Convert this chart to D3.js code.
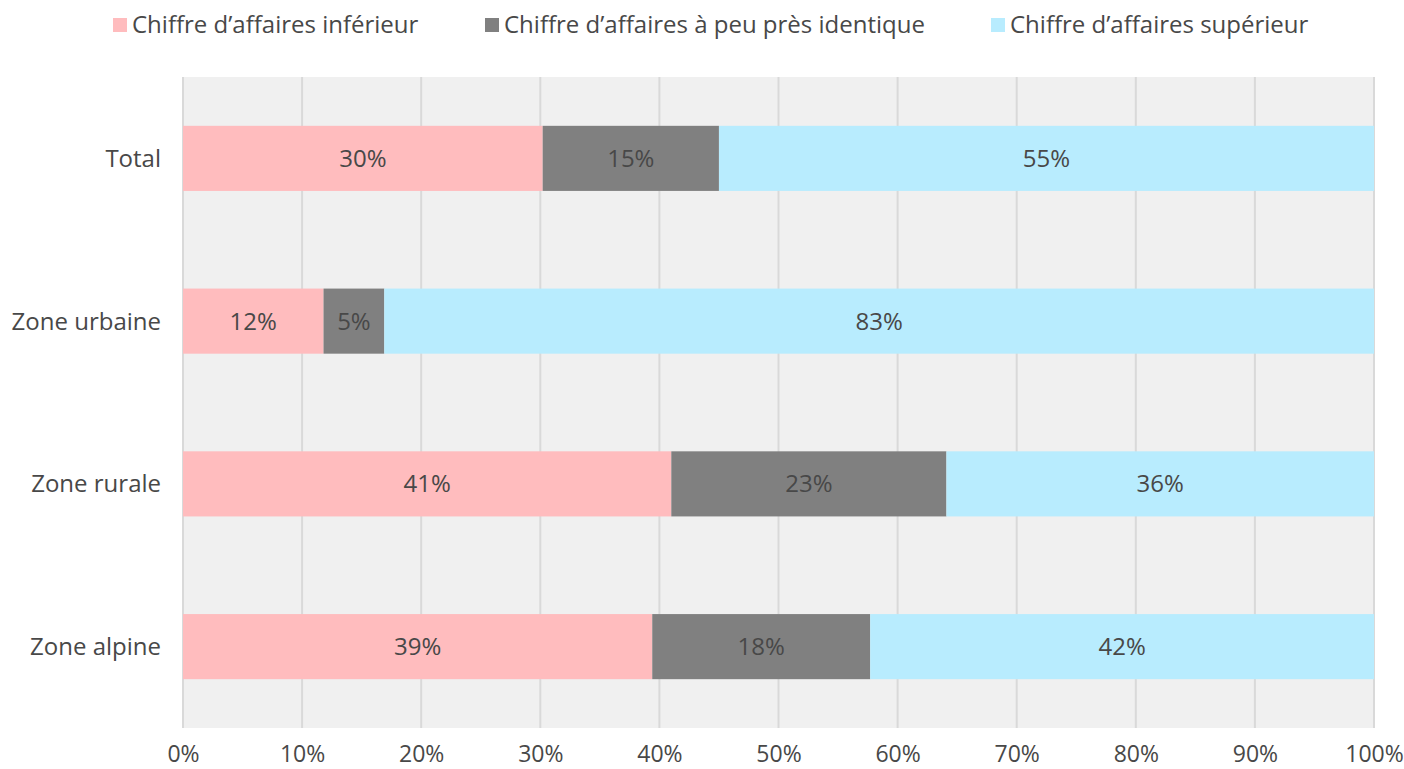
<!DOCTYPE html>
<html><head><meta charset="utf-8">
<script src="https://cdn.jsdelivr.net/npm/d3@7"></script>
<style>body{margin:0;background:#fff;} svg{display:block;}</style>
</head><body>
<svg id="chart" width="1404" height="769"></svg>
<script>
const categories = ["Total", "Zone urbaine", "Zone rurale", "Zone alpine"];
const seriesNames = ["Chiffre d\u2019affaires inférieur", "Chiffre d\u2019affaires à peu près identique", "Chiffre d\u2019affaires supérieur"];
const inferieur = [30.2, 11.8, 41.0, 39.4];
const identique = [14.8, 5.1, 23.1, 18.3];
const superieur = [55.0, 83.1, 35.9, 42.3];
const xTicks = [0, 10, 20, 30, 40, 50, 60, 70, 80, 90, 100];
const colors = ["#FFBCBE", "#808080", "#B8ECFE"];

const font = "'Open Sans', Lato, sans-serif";
const fs = 24;
const textColor = "#484848";
const svg = d3.select("#chart");
const m = {left: 183, right: 1374, top: 77, bottom: 728};

const x = d3.scaleLinear().domain([0, 100]).range([m.left, m.right]);
const y = d3.scaleBand().domain(categories).range([m.top, m.bottom]).paddingInner(0.6).paddingOuter(0.3);

const rows = categories.map((c, i) => ({cat: c, inferieur: inferieur[i], identique: identique[i], superieur: superieur[i]}));
const stack = d3.stack().keys(["inferieur", "identique", "superieur"])(rows);

svg.append("rect").attr("x", m.left).attr("y", m.top).attr("width", m.right - m.left).attr("height", m.bottom - m.top).attr("fill", "#F0F0F0");

svg.append("g").selectAll("line").data(xTicks).join("line")
  .attr("x1", d => x(d)).attr("x2", d => x(d))
  .attr("y1", m.top).attr("y2", m.bottom)
  .attr("stroke", "#D9D9D9").attr("stroke-width", 2);

const layers = svg.append("g").selectAll("g").data(stack).join("g").attr("fill", (d, i) => colors[i]);
layers.selectAll("rect").data(d => d).join("rect")
  .attr("x", d => x(d[0])).attr("width", d => x(d[1]) - x(d[0]))
  .attr("y", d => y(d.data.cat)).attr("height", y.bandwidth());

const fmt = v => Math.round(v) + "%";
const labG = svg.append("g");
stack.forEach(layer => {
  labG.selectAll(null).data(layer).join("text")
    .attr("x", d => (x(d[0]) + x(d[1])) / 2)
    .attr("y", d => y(d.data.cat) + y.bandwidth() / 2)
    .attr("dy", "0.35em").attr("text-anchor", "middle")
    .attr("font-family", font).attr("font-size", fs).attr("fill", textColor)
    .text(d => fmt(d[1] - d[0]));
});

// Y axis labels
svg.append("g").selectAll("text").data(categories).join("text")
  .attr("x", 161).attr("y", d => y(d) + y.bandwidth() / 2).attr("dy", "0.35em")
  .attr("text-anchor", "end").attr("font-family", font).attr("font-size", fs).attr("fill", textColor)
  .text(d => d);

// X axis
const xAxis = d3.axisBottom(x).tickValues(xTicks).tickFormat(d => d + "%").tickSize(0).tickPadding(18);
const ax = svg.append("g").attr("transform", `translate(0,${m.bottom})`).call(xAxis);
ax.select(".domain").remove();
ax.selectAll("text").attr("font-family", font).attr("font-size", 23).attr("fill", textColor);

// Legend
const legX = [113, 485, 991];
const lg = svg.append("g").selectAll("g").data(seriesNames).join("g")
  .attr("transform", (d, i) => `translate(${legX[i]},25)`);
lg.append("rect").attr("x", 0).attr("y", -7).attr("width", 14).attr("height", 14).attr("fill", (d, i) => colors[i]);
lg.append("text").attr("x", 19).attr("y", 0).attr("dy", "0.35em")
  .attr("font-family", font).attr("font-size", fs).attr("fill", textColor).text(d => d);
</script>
</body></html>
